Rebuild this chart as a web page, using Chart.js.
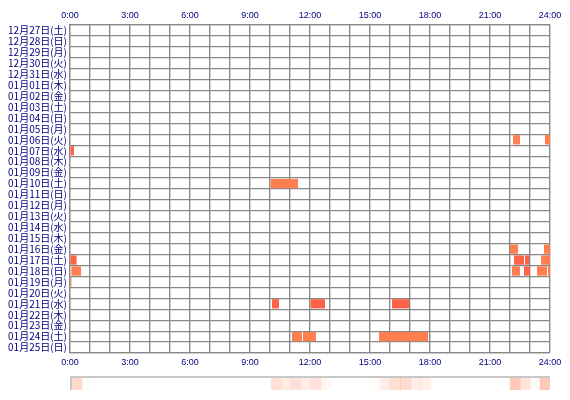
<!DOCTYPE html>
<html><head><meta charset="utf-8">
<script src="https://cdn.jsdelivr.net/npm/chart.js@4"></script>
<style>
body{margin:0;background:#fff}
#wrap{position:relative;width:570px;height:400px}
#strip{position:absolute;left:70px;top:376px;width:480px;height:14px;border-top:2px solid #c8c8c8;border-left:2px solid #c8c8c8;box-sizing:border-box}
#heat{display:block}
</style></head>
<body>
<div id="wrap">
<canvas id="main" width="570" height="400"></canvas>
<div id="strip"><canvas id="heat" width="478" height="12"></canvas></div>
</div>
<script>
const days = ['12月27日(土)','12月28日(日)','12月29日(月)','12月30日(火)','12月31日(水)',
  '01月01日(木)','01月02日(金)','01月03日(土)','01月04日(日)','01月05日(月)','01月06日(火)',
  '01月07日(水)','01月08日(木)','01月09日(金)','01月10日(土)','01月11日(日)','01月12日(月)',
  '01月13日(火)','01月14日(水)','01月15日(木)','01月16日(金)','01月17日(土)','01月18日(日)',
  '01月19日(月)','01月20日(火)','01月21日(水)','01月22日(木)','01月23日(金)','01月24日(土)','01月25日(日)']

// [day, start hour, end hour]
const lightSessions = [
  ['01月06日(火)',22.15,22.5],['01月06日(火)',23.75,24],
  ['01月10日(土)',10.03,11.4],
  ['01月16日(金)',22.0,22.4],['01月16日(金)',23.7,24],
  ['01月17日(土)',23.55,24],
  ['01月18日(日)',0.07,0.55],['01月18日(日)',22.1,22.5],['01月18日(日)',23.35,23.85],['01月18日(日)',23.9,24],
  ['01月24日(土)',11.1,11.6],['01月24日(土)',11.65,12.3],['01月24日(土)',15.45,17.9]
]
const darkSessions = [
  ['01月07日(水)',0,0.2],
  ['01月17日(土)',0,0.33],['01月17日(土)',22.2,22.7],['01月17日(土)',22.75,22.95],
  ['01月18日(日)',22.7,23.0],
  ['01月19日(月)',0,0.07],
  ['01月21日(水)',10.1,10.45],['01月21日(水)',12.03,12.75],['01月21日(水)',16.1,16.95]
]
const hourTicks = [0,3,6,9,12,15,18,21,24]

function toBars(list){ return list.map(s => ({y:s[0], x:[s[1],s[2]]})) }

const axisX = pos => ({
  type:'linear', position:pos, min:0, max:24,
  grid:{color:'#888', lineWidth:1.2, drawTicks:false},
  border:{color:'#888', width:1.2},
  ticks:{stepSize:1, autoSkip:false, maxRotation:0, padding:4, color:'#000080', font:{size:9},
    callback: v => hourTicks.includes(v) ? v + ':00' : ''},
  afterFit: s => { s.height = pos==='top' ? 25 : 47 }
})

new Chart(document.getElementById('main'), {
  type:'bar',
  data:{labels:days, datasets:[
    {data:toBars(lightSessions), backgroundColor:'#ff7f50', grouped:false, barPercentage:1, categoryPercentage:0.85},
    {data:toBars(darkSessions), backgroundColor:'#ff6347', grouped:false, barPercentage:1, categoryPercentage:0.85}
  ]},
  options:{
    indexAxis:'y', responsive:false, animation:false,
    layout:{padding:{left:2, right:20, top:0, bottom:0}},
    plugins:{legend:{display:false}, tooltip:{enabled:false}},
    scales:{
      x: axisX('top'),
      x2: axisX('bottom'),
      y:{type:'category', labels:days,
        grid:{color:'#888', lineWidth:1.2, offset:true, drawTicks:false},
        border:{color:'#888', width:1.2},
        ticks:{color:'#000080', padding:3, font:{size:10, family:'"Noto Sans CJK JP"'}, autoSkip:false},
        afterFit: s => { s.width = 68 }}
    }
  }
})

// half-hour activity totals for the strip below
const bins = Array.from({length:48}, (_, i) => i / 2)
const heat = bins.map(b => lightSessions.concat(darkSessions)
  .reduce((t, s) => t + Math.max(0, Math.min(s[2], b + 0.5) - Math.max(s[1], b)), 0))
const hmax = Math.max(...heat)

new Chart(document.getElementById('heat'), {
  type:'bar',
  data:{labels:bins, datasets:[{data:bins.map(() => 1),
    backgroundColor:heat.map(h => 'rgba(255,120,80,' + (h / hmax * 0.4) + ')'),
    barPercentage:1, categoryPercentage:1}]},
  options:{responsive:false, animation:false,
    layout:{padding:0},
    plugins:{legend:{display:false}, tooltip:{enabled:false}},
    scales:{x:{display:false}, y:{display:false, min:0, max:1}}}
})
</script>
</body></html>
